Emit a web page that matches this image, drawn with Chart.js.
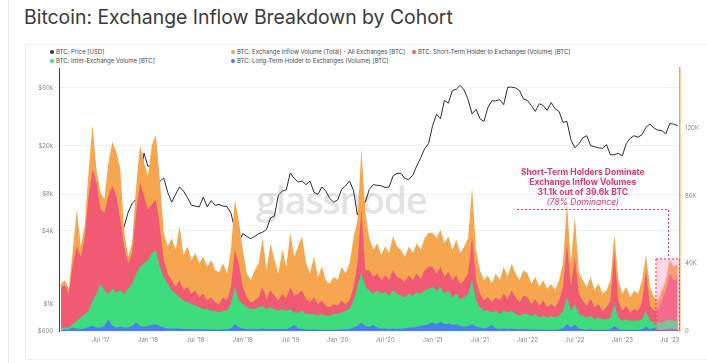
<!DOCTYPE html>
<html>
<head>
<meta charset="utf-8">
<script src="https://cdn.jsdelivr.net/npm/chart.js@4.4.1/dist/chart.umd.min.js"></script>
<style>
    body { margin: 0; background: #fff; font-family: Inter, "Open Sans", sans-serif; }
    #pagina { position: relative; width: 707px; height: 363px; overflow: hidden; }
    #borda { position: absolute; left: 8px; top: 0; width: 1px; height: 363px; background: #ececec; }
    #cartao { position: absolute; left: 25px; top: 44px; width: 700px; height: 314px; border: 1px solid #efefef; }
    #titulo { position: absolute; left: 24px; top: 5px; font-size: 19.4px; color: #3a3a3a; white-space: nowrap; }
    .legenda { position: absolute; font-size: 6px; color: #4a4a4a; white-space: nowrap; line-height: 8px; }
    .legenda span { display: inline-block; width: 4px; height: 4px; border-radius: 50%; margin-right: 2px; }
    canvas { position: absolute; left: 0; top: 0; }
</style>
</head>
<body>
<div id="pagina">
    <div id="borda"></div>
    <div id="cartao"></div>
    <div id="titulo">Bitcoin: Exchange Inflow Breakdown by Cohort</div>
    <div class="legenda" style="left:50px;top:48px"><span style="background:#333"></span>BTC: Price [USD]</div>
    <div class="legenda" style="left:231px;top:48px"><span style="background:#F7A650"></span>BTC: Exchange Inflow Volume (Total) - All Exchanges [BTC]</div>
    <div class="legenda" style="left:412px;top:48px"><span style="background:#F05A72"></span>BTC: Short-Term Holder to Exchanges (Volume) [BTC]</div>
    <div class="legenda" style="left:50px;top:57px"><span style="background:#3DDC7C"></span>BTC: Inter-Exchange Volume [BTC]</div>
    <div class="legenda" style="left:231px;top:57px"><span style="background:#4A7EEA"></span>BTC: Long-Term Holder to Exchanges (Volume) [BTC]</div>
    <canvas id="grafico" width="707" height="363"></canvas>
</div>
<script>
// meses desde jan/2017, de quinze em quinze dias (fev/2017 ate ago/2023)
const meses = [];
for (let i = 0; i < 157; i++) meses.push(1 + i * 0.5);

// volumes em milhares de BTC
const volumeTotal = [
    28, 30, 25, 48, 72, 50, 62, 95, 122, 95, 82, 78, 100, 112, 106, 96, 58, 44, 52, 85, 110, 100,
    92, 110, 116, 90, 58, 50, 55, 48, 62, 45, 50, 42, 46, 40, 44, 38, 42, 36, 35, 40, 34, 48, 78, 65,
    48, 34, 30, 36, 40, 55, 36, 52, 42, 34, 48, 38, 58, 44, 50, 56, 40, 34, 44, 32, 38, 30, 28, 32,
    30, 38, 34, 40, 55, 65, 108, 70, 55, 48, 52, 45, 50, 46, 56, 50, 48, 44, 50, 46, 52, 48, 55, 58,
    58, 55, 60, 52, 56, 48, 54, 46, 50, 55, 85, 48, 36, 30, 33, 28, 34, 30, 38, 32, 40, 34, 30, 36,
    34, 28, 32, 26, 30, 25, 28, 24, 30, 40, 76, 40, 68, 35, 30, 26, 32, 24, 28, 22, 24, 30, 57, 30,
    22, 26, 20, 24, 22, 30, 45, 26, 20, 18, 24, 30, 42, 38, 39.6
];
const volumeCurtoPrazo = [
    26, 27, 22, 40, 50, 44, 55, 80, 96, 88, 72, 70, 80, 86, 80, 66, 50, 40, 46, 70, 88, 80,
    72, 75, 78, 62, 42, 34, 30, 26, 30, 24, 26, 22, 24, 20, 22, 18, 20, 17, 16, 20, 18, 26, 48, 40,
    26, 20, 17, 18, 20, 26, 19, 24, 21, 18, 22, 19, 26, 21, 22, 24, 19, 17, 20, 16, 18, 15, 14, 16,
    15, 18, 16, 18, 26, 40, 72, 36, 36, 32, 34, 30, 33, 30, 36, 32, 31, 29, 33, 30, 34, 31, 36, 38,
    38, 34, 38, 32, 35, 30, 33, 28, 30, 34, 56, 30, 22, 18, 20, 17, 20, 18, 22, 19, 24, 20, 17, 21,
    20, 16, 19, 15, 18, 14, 16, 14, 18, 26, 52, 26, 44, 22, 18, 15, 19, 14, 16, 12, 14, 18, 46, 18,
    12, 15, 11, 13, 12, 17, 36, 15, 12, 13, 18, 24, 34, 30, 31.1
];
const volumeEntreExchanges = [
    1.5, 2, 2, 4, 6, 8, 10, 12, 18, 22, 28, 24, 22, 25, 23, 24, 22, 25, 28, 34, 38, 40,
    42, 46, 48, 38, 32, 28, 24, 22, 20, 18, 17, 16, 15, 14, 13, 13, 12, 12, 11, 12, 12, 16, 26, 18,
    16, 14, 13, 13, 14, 15, 13, 14, 13, 12, 13, 12, 13, 11, 11, 12, 10, 10, 10, 9, 10, 9, 9, 10,
    10, 11, 12, 13, 18, 26, 35, 26, 24, 22, 24, 22, 23, 21, 24, 22, 21, 20, 22, 21, 23, 22, 24, 25,
    26, 24, 26, 22, 24, 20, 22, 19, 20, 22, 30, 18, 14, 12, 12, 11, 12, 10, 12, 11, 12, 10, 9, 10,
    10, 9, 10, 8, 9, 8, 9, 8, 9, 12, 20, 12, 16, 10, 9, 8, 9, 7, 8, 7, 7, 8, 16, 8,
    6, 7, 6, 6, 6, 7, 12, 6, 5, 5, 5, 6, 7, 6, 6
];
const volumeLongoPrazo = [
    0.5, 0.8, 1, 2, 1.5, 1, 1.5, 2.5, 3, 2, 2, 3, 7, 3, 2, 2.5, 2, 2, 3, 5, 3, 2.5,
    3, 3.5, 4, 3, 2, 1.5, 1.5, 1.5, 1.5, 1.2, 1.2, 1, 1, 1, 1, 1, 0.9, 0.9, 0.8, 1, 1, 1.5, 4, 2,
    1.5, 1, 1, 1, 1.2, 1.5, 1, 1.2, 1, 1, 1.2, 1, 2, 3.5, 1.5, 1.2, 1, 0.8, 1, 0.8, 0.8, 0.8, 0.7, 0.8,
    0.8, 1, 1, 1.2, 2, 3, 5, 3, 2.5, 3.5, 2, 1.5, 1.5, 1.2, 1.5, 1.2, 1.5, 1.5, 2, 2, 2.5, 3, 3.5, 4,
    5, 4, 5.5, 4, 4.5, 3.5, 4, 3, 2.5, 3, 4, 2.5, 2, 1.5, 2, 3.5, 1.5, 1.2, 1.5, 1.2, 1.5, 1.2, 1, 1,
    1, 0.9, 1, 0.8, 0.9, 0.8, 0.8, 0.8, 1, 1.5, 4, 2, 3.5, 1.5, 1, 0.8, 1, 0.8, 0.8, 0.7, 0.8, 1, 3, 1.2,
    0.8, 0.8, 0.7, 0.8, 0.8, 1, 2.5, 0.9, 2, 0.8, 0.8, 1, 1.5, 1.2, 1.2
];
const precoBTC = [
    970, 1000, 1220, 1250, 1080, 1180, 1400, 1750, 2400, 2450, 2500, 1950, 2750, 4200, 4700, 3700, 4350, 5700, 6700, 7300, 10800, 17500,
    13600, 13800, 9200, 10200, 10900, 8300, 6900, 8000, 9200, 8500, 7500, 6500, 6400, 6300, 7600, 6300, 7100, 6500, 6600, 6400, 6350, 5600, 4100, 3250,
    3800, 3600, 3450, 3600, 3800, 3900, 4100, 5100, 5300, 7900, 8500, 8700, 12000, 10800, 10100, 10300, 9600, 10300, 8300, 8000, 9200, 8500, 7400, 6900,
    7200, 8800, 9400, 10300, 8600, 5400, 6500, 6900, 8800, 9600, 9500, 9400, 9100, 9200, 11300, 11900, 11900, 10800, 10600, 11500, 13700, 16000, 19000, 21000,
    29300, 36500, 33500, 47500, 45000, 57000, 58700, 63000, 57700, 48000, 36700, 40000, 33500, 31800, 41500, 47000, 47000, 48100, 43800, 60900, 61000, 60000, 57000, 48800,
    47300, 43000, 38500, 44500, 43000, 39300, 45500, 40500, 38500, 31300, 31800, 22500, 19300, 20800, 23300, 24300, 20100, 19700, 19300, 19100, 20500, 16900, 17000, 17400,
    16600, 20900, 23100, 24300, 23600, 24800, 28500, 30300, 28100, 27000, 26800, 25100, 30500, 30300, 29300
];

const ticksMes = [6, 12, 18, 24, 30, 36, 42, 48, 54, 60, 66, 72, 78];
const rotulosMes = ["Jul '17", "Jan '18", "Jul '18", "Jan '19", "Jul '19", "Jan '20", "Jul '20", "Jan '21", "Jul '21", "Jan '22", "Jul '22", "Jan '23", "Jul '23"];
const ticksPreco = [600, 1000, 4000, 8000, 20000, 60000];
const rotulosPreco = ['$600', '$1k', '$4k', '$8k', '$20k', '$60k'];
const ticksVolume = [0, 40, 80, 120];
const rotulosVolume = ['0', '40K', '80K', '120K'];

// caixa de destaque (mes, milhares de BTC)
const destaqueInicio = 58.7, destaqueFim = 77.8, destaqueTopo = 72;
const caixaInicio = 76.2, caixaTopo = 43;
const textoCentro = 67;
const textoDestaque = ['Short-Term Holders Dominate', 'Exchange Inflow Volumes', '31.1k out of 39.6k BTC'];

function pontos(valores) {
    return valores.map((v, i) => ({ x: meses[i], y: v }));
}

function area(valores, cor, ordem) {
    return {
        data: pontos(valores),
        yAxisID: 'yVolume',
        backgroundColor: cor,
        borderWidth: 0,
        borderColor: 'transparent',
        fill: 'origin',
        pointRadius: 0,
        tension: 0,
        order: ordem
    };
}

const marcaDagua = {
    id: 'marcaDagua',
    beforeDatasetsDraw(chart) {
        const c = chart.ctx;
        c.save();
        c.font = '600 38px "Open Sans", sans-serif';
        c.letterSpacing = '-1.5px';
        c.fillStyle = 'rgba(185,185,185,0.4)';
        c.textAlign = 'center';
        c.textBaseline = 'alphabetic';
        c.fillText('glassnode', chart.chartArea.left + 282, 214);
        c.restore();
    }
};

const destaque = {
    id: 'destaque',
    afterDatasetsDraw(chart) {
        const c = chart.ctx;
        const x = chart.scales.x, y = chart.scales.yVolume, area = chart.chartArea;
        const xIni = x.getPixelForValue(destaqueInicio);
        const xFim = x.getPixelForValue(destaqueFim);
        const yTopo = y.getPixelForValue(destaqueTopo);
        const xCaixa = x.getPixelForValue(caixaInicio);
        const yCaixa = y.getPixelForValue(caixaTopo);
        c.save();
        c.fillStyle = 'rgba(255,140,185,0.35)';
        c.fillRect(xCaixa, yCaixa, area.right - xCaixa, area.bottom - yCaixa);
        c.setLineDash([2, 2]);
        c.strokeStyle = '#E8326E';
        c.lineWidth = 1;
        c.strokeRect(xCaixa + 0.5, yCaixa + 0.5, area.right - xCaixa - 1, area.bottom - yCaixa - 1);
        c.beginPath();
        c.moveTo(xIni, Math.round(yTopo) + 0.5);
        c.lineTo(Math.round(xFim) + 0.5, Math.round(yTopo) + 0.5);
        c.lineTo(Math.round(xFim) + 0.5, yCaixa);
        c.stroke();
        c.setLineDash([]);
        const xt = x.getPixelForValue(textoCentro);
        c.textAlign = 'center';
        c.textBaseline = 'middle';
        c.fillStyle = '#E8326E';
        c.font = 'bold 8.5px Inter, sans-serif';
        textoDestaque.forEach((linha, i) => c.fillText(linha, xt, yTopo - 37 + i * 10));
        c.font = 'italic 8.5px Inter, sans-serif';
        c.fillText('(78% Dominance)', xt, yTopo - 7);
        c.restore();
    }
};

Chart.defaults.font.family = 'Inter, sans-serif';

new Chart(document.getElementById('grafico'), {
    type: 'line',
    data: {
        datasets: [
            {
                data: pontos(precoBTC),
                yAxisID: 'yPreco',
                borderColor: '#2e2e2e',
                borderWidth: 1,
                pointRadius: 0,
                fill: false,
                tension: 0,
                order: 5
            },
            area(volumeTotal, '#F7A650', 4),
            area(volumeCurtoPrazo, '#F05A72', 3),
            area(volumeEntreExchanges, '#3DDC7C', 2),
            area(volumeLongoPrazo, '#4A7EEA', 1)
        ]
    },
    options: {
        responsive: false,
        animation: false,
        layout: { padding: { top: 68, left: 0, right: 0, bottom: 0 } },
        plugins: { legend: { display: false }, tooltip: { enabled: false } },
        scales: {
            x: {
                type: 'linear',
                min: 0.75,
                max: 79.3,
                afterBuildTicks: (s) => { s.ticks = ticksMes.map(v => ({ value: v })); },
                afterFit: (s) => { s.height = 32; },
                ticks: {
                    autoSkip: false,
                    maxRotation: 0,
                    padding: 6,
                    color: '#8a8a8a',
                    font: { size: 6 },
                    callback: (v, i) => rotulosMes[i]
                },
                grid: { display: false, drawTicks: false },
                border: { display: false }
            },
            yPreco: {
                type: 'logarithmic',
                position: 'left',
                min: 600,
                max: 87640,
                afterBuildTicks: (s) => { s.ticks = ticksPreco.map(v => ({ value: v })); },
                afterFit: (s) => { s.width = 59; },
                ticks: {
                    padding: 6,
                    color: '#8a8a8a',
                    font: { size: 6 },
                    callback: (v, i) => rotulosPreco[i]
                },
                grid: { color: '#f2f2f2', drawTicks: false },
                border: { display: true, color: '#3d3d3d', width: 1 }
            },
            yVolume: {
                type: 'linear',
                position: 'right',
                min: 0,
                max: 155.85,
                afterBuildTicks: (s) => { s.ticks = ticksVolume.map(v => ({ value: v })); },
                afterFit: (s) => { s.width = 27; },
                ticks: {
                    padding: 5,
                    color: '#8a8a8a',
                    font: { size: 6 },
                    callback: (v, i) => rotulosVolume[i]
                },
                grid: { display: false, drawTicks: false },
                border: { display: true, color: '#F7A650', width: 1.5 }
            }
        }
    },
    plugins: [marcaDagua, destaque]
});
</script>
</body>
</html>
